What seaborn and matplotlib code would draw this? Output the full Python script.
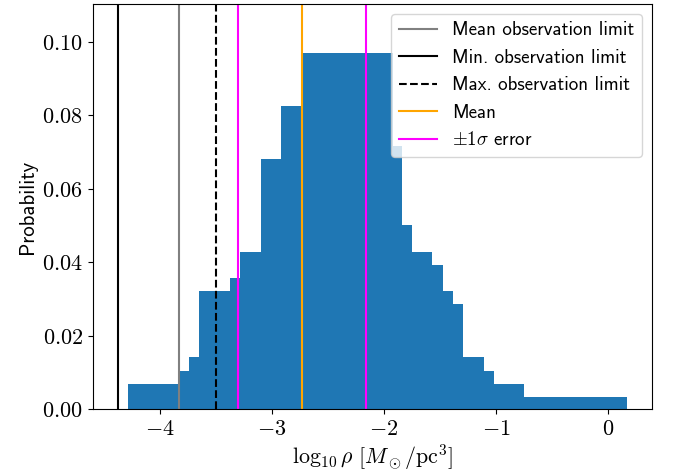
import matplotlib
matplotlib.use("Agg")
import matplotlib.pyplot as plt
from matplotlib.ticker import FuncFormatter, MultipleLocator
import seaborn as sns

# Histogram bin edges in log10 density and the probability of each bin
bin_edges = [-4.283, -3.825, -3.738, -3.649, -3.372, -3.286, -3.096, -2.917,
             -2.738, -1.923, -1.840, -1.747, -1.569, -1.473, -1.381, -1.295,
             -1.107, -1.018, -0.750, 0.170]
bin_probability = [0.0069, 0.0105, 0.0143, 0.0322, 0.0358, 0.0428, 0.0681,
                   0.0825, 0.0969, 0.0716, 0.0501, 0.0428, 0.0393, 0.0322,
                   0.0286, 0.0143, 0.0105, 0.0069, 0.0034]

# Reference lines
mean_obs_limit = -3.825
min_obs_limit = -4.372
max_obs_limit = -3.50
mean_value = -2.735
sigma_low = -3.304
sigma_high = -2.158

plt.rcParams["mathtext.fontset"] = "cm"
sans = ["cmss10", "DejaVu Sans"]

fig = plt.figure(figsize=(6.94, 4.73), dpi=100)
ax = fig.add_axes([0.1336, 0.1347, 0.8055, 0.8562])

centers = [(a + b) / 2 for a, b in zip(bin_edges[:-1], bin_edges[1:])]
sns.histplot(x=centers, weights=bin_probability, bins=bin_edges, stat="count",
             color="#1f77b4", alpha=1.0, linewidth=0, ax=ax)

ax.axvline(mean_obs_limit, color="gray", lw=1.5, label="Mean observation limit")
ax.axvline(min_obs_limit, color="black", lw=1.5, label="Min. observation limit")
ax.axvline(max_obs_limit, color="black", lw=1.5, ls="--", label="Max. observation limit")
ax.axvline(mean_value, color="orange", lw=1.5, label="Mean")
ax.axvline(sigma_low, color="magenta", lw=1.5, label=r"$\pm1\sigma$ error")
ax.axvline(sigma_high, color="magenta", lw=1.5)

ax.set_xlim(-4.598, 0.39)
ax.set_ylim(0, 0.1102)
ax.xaxis.set_major_locator(MultipleLocator(1))
ax.yaxis.set_major_locator(MultipleLocator(0.02))
ax.xaxis.set_major_formatter(FuncFormatter(lambda v, p: f"${v:.0f}$"))
ax.yaxis.set_major_formatter(FuncFormatter(lambda v, p: f"${v:.2f}$"))
ax.tick_params(labelsize=16)

ax.set_xlabel(r"$\log_{10}\rho\ [M_\odot/\mathrm{pc}^3]$", fontsize=15.8, labelpad=2)
ax.set_ylabel("Probability", fontsize=15, family=sans)

leg = ax.legend(loc="upper right", prop={"family": sans, "size": 13.7})

fig.savefig("out.png", dpi=100)
